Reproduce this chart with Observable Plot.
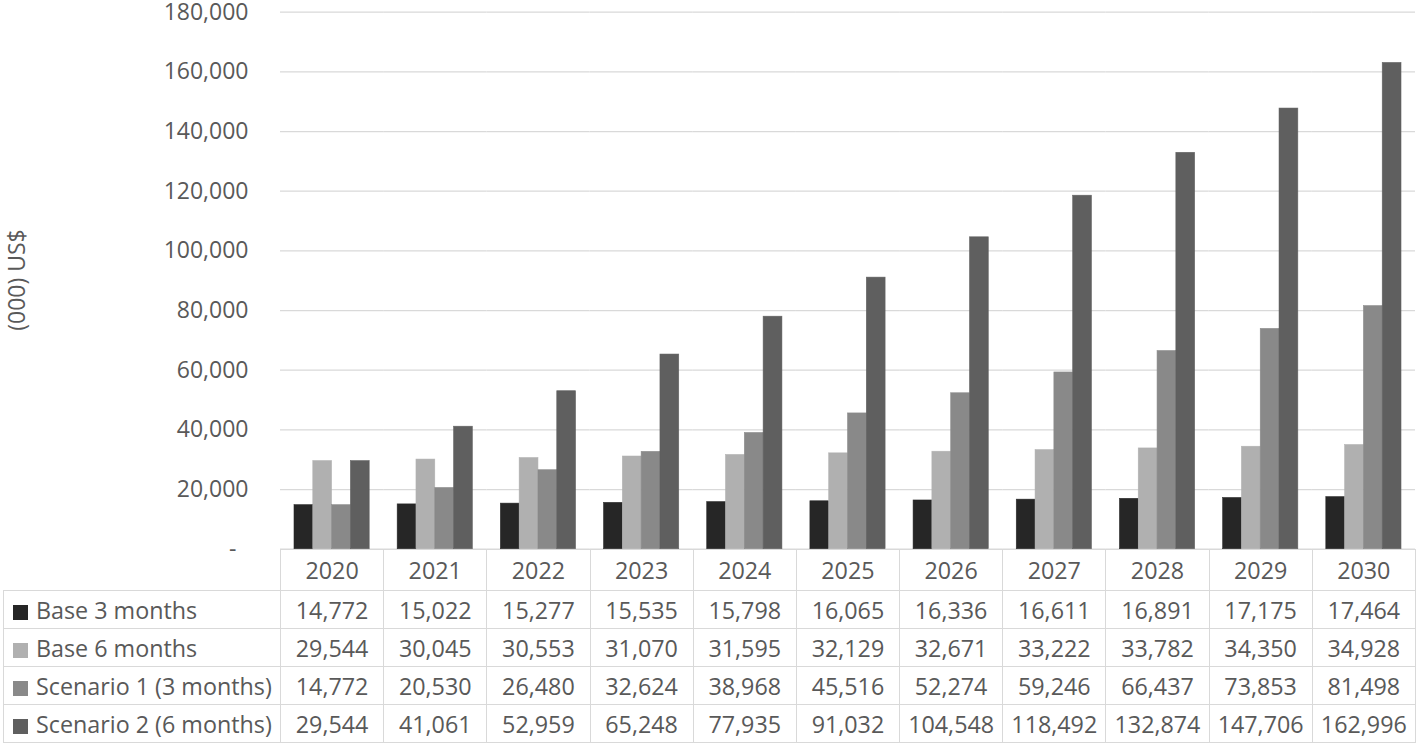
<!DOCTYPE html>
<html>
<head>
<meta charset="utf-8">
<script src="https://cdn.jsdelivr.net/npm/d3@7"></script>
<script src="https://cdn.jsdelivr.net/npm/@observablehq/plot@0.6"></script>
<style>
  html, body { margin: 0; padding: 0; background: #fff; }
  #wrap { position: relative; width: 1418px; height: 747px; font-family: "Open Sans", sans-serif; color: #595959; }
  #chart { position: absolute; left: 0; top: 0; z-index: 2; }
  #chart svg { overflow: visible; }
  #ylabel { position: absolute; left: 16px; top: 280px; transform: translate(-50%, -50%) rotate(-90deg); font-size: 23px; white-space: nowrap; line-height: 1; }
  table { position: absolute; left: 3px; top: 548.5px; z-index: 1; border-collapse: collapse; table-layout: fixed; font-size: 23.3px; }
  td { border: 1px solid #d9d9d9; text-align: center; padding: 0; white-space: nowrap; height: 37px; }
  tr.head td { height: 40.5px; }
  tr.head td.blank { border: none; }
  td.name { text-align: left; padding-left: 9px; }
  .key { display: inline-block; width: 15px; height: 15px; margin-right: 8px; vertical-align: -1px; }
</style>
</head>
<body>
<div id="wrap">
  <div id="chart"></div>
  <div id="ylabel">(000) US$</div>
</div>
<script>
const years = ["2020","2021","2022","2023","2024","2025","2026","2027","2028","2029","2030"];
const seriesNames = ["Base 3 months","Base 6 months","Scenario 1 (3 months)","Scenario 2 (6 months)"];
const base3 = [14772,15022,15277,15535,15798,16065,16336,16611,16891,17175,17464];
const base6 = [29544,30045,30553,31070,31595,32129,32671,33222,33782,34350,34928];
const scen1 = [14772,20530,26480,32624,38968,45516,52274,59246,66437,73853,81498];
const scen2 = [29544,41061,52959,65248,77935,91032,104548,118492,132874,147706,162996];
const seriesColors = ["#262626","#b0b0b0","#898989","#5f5f5f"];
const yTicks = [0,20000,40000,60000,80000,100000,120000,140000,160000,180000];

const seriesValues = [base3, base6, scen1, scen2];
const data = [];
seriesNames.forEach((s, i) => years.forEach((y, j) => data.push({year: y, series: s, value: seriesValues[i][j]})));

const fmt = d3.format(",");

const chart = Plot.plot({
  width: 1418,
  height: 560,
  marginLeft: 280,
  marginRight: 3,
  marginTop: 11.7,
  marginBottom: 11.3,
  style: {fontFamily: "'Open Sans', sans-serif", color: "#595959", background: "transparent"},
  fx: {domain: years, paddingInner: 0, paddingOuter: 0, round: false, axis: null, label: null},
  x: {domain: seriesNames, paddingInner: 0, paddingOuter: 0.744, round: false, axis: null, label: null},
  y: {domain: [0, 180000], axis: null, label: null},
  color: {domain: seriesNames, range: seriesColors},
  marks: [
    Plot.gridY(yTicks, {stroke: "#d9d9d9", strokeOpacity: 1, strokeWidth: 1.3}),
    Plot.barY(data, {fx: "year", x: "series", y: "value", fill: "series", stroke: "series", strokeWidth: 0.6, strokeOpacity: 0.9}),
    Plot.axisY(yTicks.filter(d => d !== 0), {tickSize: 0, tickPadding: 32, tickFormat: fmt, fontSize: 23, fill: "#595959", label: null}),
    Plot.axisY([0], {tickSize: 0, tickPadding: 44, tickFormat: () => "-", fontSize: 23, fill: "#595959", label: null})
  ]
});
document.getElementById("chart").appendChild(chart);

// data table below the axis
const colW = (1415 - 280) / years.length;
const table = document.createElement("table");
const cg = document.createElement("colgroup");
const c0 = document.createElement("col"); c0.style.width = "277px"; cg.appendChild(c0);
years.forEach(() => { const c = document.createElement("col"); c.style.width = colW + "px"; cg.appendChild(c); });
table.appendChild(cg);
const head = document.createElement("tr"); head.className = "head";
const blank = document.createElement("td"); blank.className = "blank"; head.appendChild(blank);
years.forEach(y => { const td = document.createElement("td"); td.textContent = y; head.appendChild(td); });
table.appendChild(head);
seriesNames.forEach((s, i) => {
  const tr = document.createElement("tr");
  const name = document.createElement("td"); name.className = "name";
  const key = document.createElement("span"); key.className = "key"; key.style.background = seriesColors[i];
  name.appendChild(key); name.appendChild(document.createTextNode(s));
  tr.appendChild(name);
  seriesValues[i].forEach(v => { const td = document.createElement("td"); td.textContent = fmt(v); tr.appendChild(td); });
  table.appendChild(tr);
});
document.getElementById("wrap").appendChild(table);
</script>
</body>
</html>
